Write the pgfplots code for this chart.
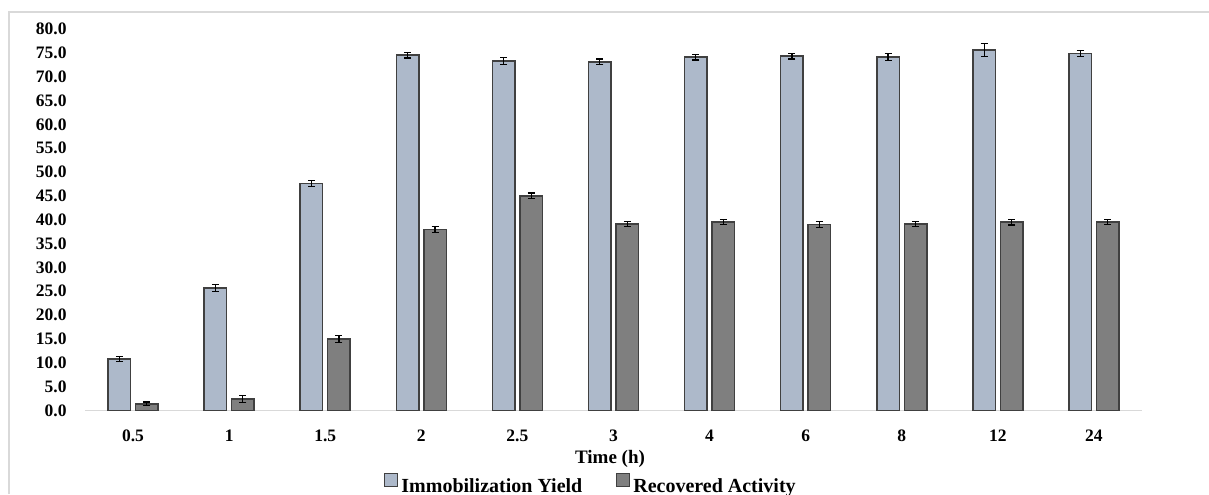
\documentclass[border=0pt]{standalone}
\usepackage{pgfplots}
\pgfplotsset{compat=1.18}
\usepackage{pgfplotstable}
\usepackage{fontspec}
\setmainfont{Liberation Serif}
\definecolor{iy}{HTML}{ADB9CA}
\definecolor{ra}{HTML}{7F7F7F}
\definecolor{edge}{HTML}{404040}
\definecolor{framec}{HTML}{D9D9D9}
\pgfplotstableread{
x y e
0 10.8 0.6
1 25.7 0.7
2 47.6 0.6
3 74.5 0.6
4 73.3 0.8
5 73.1 0.6
6 74.1 0.6
7 74.3 0.6
8 74.1 0.7
9 75.6 1.4
10 74.9 0.6
}\iytab
\pgfplotstableread{
x y e
0 1.4 0.4
1 2.4 0.7
2 15.0 0.7
3 38.0 0.6
4 45.0 0.6
5 39.1 0.5
6 39.5 0.5
7 39.0 0.6
8 39.1 0.5
9 39.5 0.6
10 39.5 0.5
}\ratab
\begin{document}
\begin{tikzpicture}[x=0.5pt,y=0.5pt]
\useasboundingbox (0,0) rectangle (1209,494);
\draw[framec, line width=0.6pt] (9,0) -- (9,482) -- (1209,482);
\begin{axis}[
 at={(42.5pt,41.75pt)}, anchor=south west,
 scale only axis, width=528.5pt, height=190.75pt,
 xmin=-0.5, xmax=10.5, ymin=0, ymax=80,
 ybar=2.5pt, bar width=11.25pt,
 axis x line*=bottom, axis y line*=left,
 x axis line style={draw=framec, line width=0.75pt},
 y axis line style={draw=none},
 major tick length=0pt, tick style={draw=none},
 xtick={0,...,10}, xticklabels={0.5,1,1.5,2,2.5,3,4,6,8,12,24},
 ytick={0,5,...,80},
 /pgf/number format/fixed, /pgf/number format/fixed zerofill,
 /pgf/number format/precision=1, /pgf/number format/assume math mode=true,
 yticklabel style={inner sep=0pt, xshift=-9pt, anchor=east, font=\fontsize{8.75}{10}\selectfont\bfseries},
 xticklabel style={inner sep=0pt, yshift=-9.5pt, anchor=north, font=\fontsize{8.75}{10}\selectfont\bfseries},
 xlabel={Time (h)},
 xlabel style={at={(axis description cs:0.5,0)}, anchor=center, yshift=-24.25pt, xshift=-1.75pt, inner sep=0pt, font=\fontsize{9.5}{11}\selectfont\bfseries},
 legend columns=2,
 legend style={at={(0.4778,-0.1935)}, anchor=center, draw=none, fill=none, inner sep=0pt,
   font=\fontsize{10}{12}\selectfont\bfseries, nodes={inner sep=0pt},
   /tikz/every odd column/.append style={column sep=1.5pt},
   /tikz/every even column/.append style={column sep=17pt}},
 legend image code/.code={\draw[#1, line width=0.5pt] (0pt,0pt) rectangle (6.5pt,6.5pt);},
]
\addplot[fill=iy, draw=edge, line width=0.75pt,
  error bars/.cd, y dir=both, y explicit,
  error bar style={black, line width=0.6pt},
  error mark options={rotate=90, mark size=1.75pt, black, line width=0.6pt}]
  table[x=x, y=y, y error=e] {\iytab};
\addlegendentry{Immobilization Yield}
\addplot[fill=ra, draw=edge, line width=0.75pt,
  error bars/.cd, y dir=both, y explicit,
  error bar style={black, line width=0.6pt},
  error mark options={rotate=90, mark size=1.75pt, black, line width=0.6pt}]
  table[x=x, y=y, y error=e] {\ratab};
\addlegendentry{Recovered Activity}
\node[anchor=east, inner sep=0pt, xshift=-26.5pt, font=\fontsize{8.75}{10}\selectfont\bfseries] at (axis description cs:0,0.5) {\%};
\end{axis}
\end{tikzpicture}
\end{document}
